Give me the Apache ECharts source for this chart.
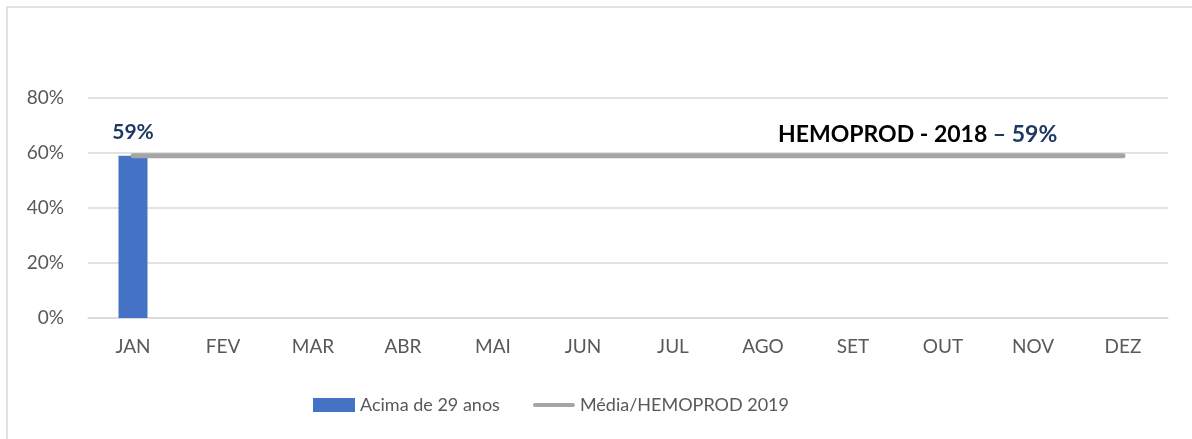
<!DOCTYPE html>
<html><head><meta charset="utf-8">
<script src="https://cdn.jsdelivr.net/npm/echarts@6/dist/echarts.min.js"></script>
<style>html,body{margin:0;padding:0;background:#fff}#c{width:1192px;height:439px}</style>
</head><body><div id="c"></div>
<script>
const categories = ['JAN','FEV','MAR','ABR','MAI','JUN','JUL','AGO','SET','OUT','NOV','DEZ'];
const barValues = [59, null, null, null, null, null, null, null, null, null, null, null];
const avgValues = [59, 59, 59, 59, 59, 59, 59, 59, 59, 59, 59, 59];
const yTicks = {min: 0, max: 80, interval: 20};
const seriesNames = ['Acima de 29 anos', 'Média/HEMOPROD 2019'];
const noteMain = 'HEMOPROD - 2018 ';
const noteValue = '– 59%';

const font = 'Lato, "Open Sans", sans-serif';
const chart = echarts.init(document.getElementById('c'));
chart.setOption({
  animation: false,
  textStyle: {fontFamily: font},
  graphic: [
    {type: 'rect', shape: {x: 7, y: 7, width: 1200, height: 450},
     style: {fill: 'none', stroke: '#d9d9d9', lineWidth: 1.5}, silent: true, z: -10},
    {type: 'text', left: 778, top: 123,
     style: {text: '{a|' + noteMain + '}{b|' + noteValue + '}',
       rich: {a: {fontFamily: font, fontWeight: 'bold', fontSize: 23, fill: '#000'},
              b: {fontFamily: font, fontWeight: 'bold', fontSize: 23, fill: '#1f3864'}}}}
  ],
  grid: {left: 88, right: 24, top: 98, bottom: 121},
  legend: {
    left: 308, top: 391, itemGap: 33, itemWidth: 42, itemHeight: 14,
    textStyle: {fontFamily: font, fontSize: 18, color: '#595959'},
    data: [{name: seriesNames[0], icon: 'rect'},
           {name: seriesNames[1],
            icon: 'path://M0,0 M0,14 M2,5 L40,5 A2,2 0 0 1 40,9 L2,9 A2,2 0 0 1 2,5 Z',
            itemStyle: {color: '#a5a5a5'}}]
  },
  xAxis: {
    type: 'category', data: categories,
    axisLine: {show: true, lineStyle: {color: '#d9d9d9', width: 1.5}},
    axisTick: {show: false},
    axisLabel: {color: '#595959', fontSize: 19, margin: 19, fontFamily: font}
  },
  yAxis: {
    type: 'value', min: yTicks.min, max: yTicks.max, interval: yTicks.interval,
    axisLine: {show: false}, axisTick: {show: false},
    axisLabel: {color: '#595959', fontSize: 19, margin: 24, formatter: '{value}%', fontFamily: font},
    splitLine: {lineStyle: {color: '#d9d9d9', width: 1.5}}
  },
  series: [
    {name: seriesNames[0], type: 'bar', data: barValues, barWidth: 29,
     itemStyle: {color: '#4472c4'},
     label: {show: true, position: 'top', distance: 13, formatter: '{c}%',
       fontFamily: font, fontWeight: 'bold', fontSize: 21, color: '#1f3864'}},
    {name: seriesNames[1], type: 'line', data: avgValues, symbol: 'none',
     lineStyle: {color: '#a5a5a5', width: 5, cap: 'round'}, itemStyle: {color: '#a5a5a5'}, z: 3}
  ]
});
</script></body></html>
